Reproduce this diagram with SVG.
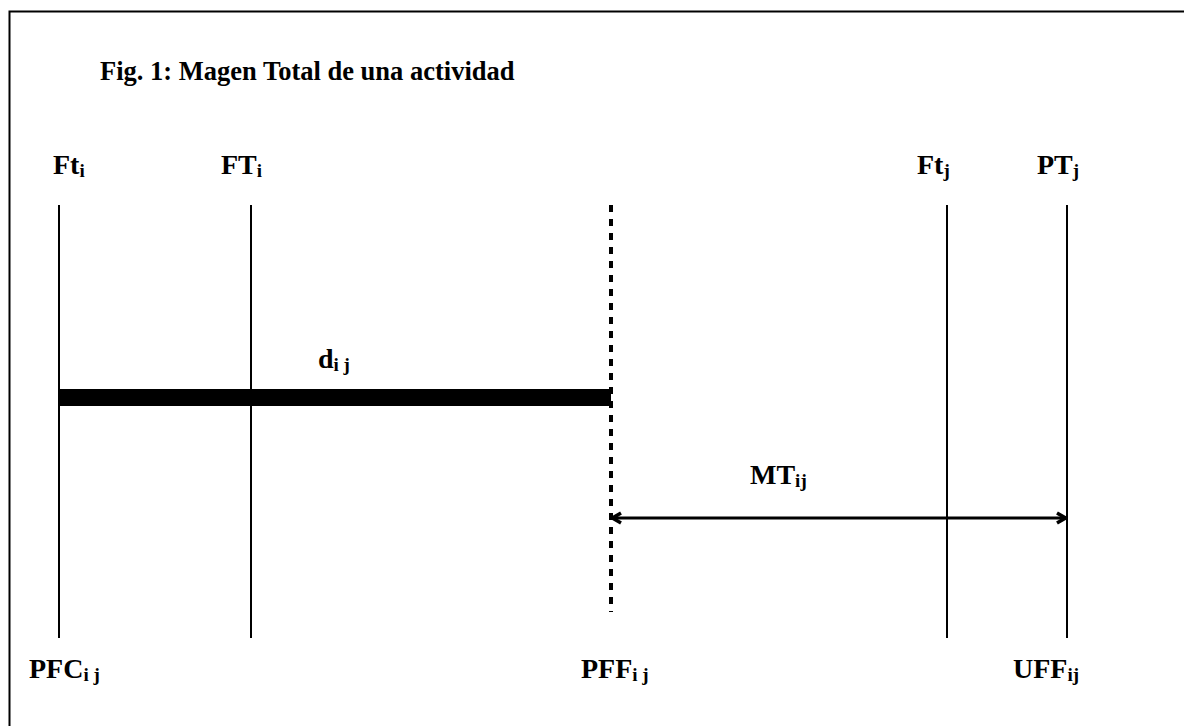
<svg xmlns="http://www.w3.org/2000/svg" width="1184" height="726" viewBox="0 0 1184 726">
<style>
text{font-family:"Liberation Serif","Times New Roman",serif;font-weight:bold;fill:#000}
.lbl{font-size:28px}
.sub{font-size:19px}
.title{font-size:26.5px}
.vl{stroke:#000;stroke-width:2;fill:none}
</style>
<defs>
<marker id="ah" viewBox="0 0 12 14" refX="11" refY="7" markerWidth="12" markerHeight="14" markerUnits="userSpaceOnUse" orient="auto-start-reverse">
<path d="M2,2 L10.5,7 L2,12" fill="none" stroke="#000" stroke-width="3.5"/>
</marker>
</defs>
<rect width="1184" height="726" fill="#fff"/>
<path d="M9.5,726 V11.5 H1184" fill="none" stroke="#000" stroke-width="2"/>
<g id="title"><text class="title" x="100" y="80">Fig. 1: Magen Total de una actividad</text></g>
<g id="connectors">
<line class="vl" x1="59" y1="205" x2="59" y2="638"/>
<line class="vl" x1="251" y1="205" x2="251" y2="638"/>
<line x1="611" y1="205" x2="611" y2="612" stroke="#000" stroke-width="4" stroke-dasharray="7,7"/>
<line class="vl" x1="947" y1="205" x2="947" y2="638"/>
<line class="vl" x1="1067" y1="205" x2="1067" y2="638"/>
<rect x="59" y="389" width="552" height="17" fill="#000"/>
<line x1="612" y1="518" x2="1066" y2="518" stroke="#000" stroke-width="3" marker-start="url(#ah)" marker-end="url(#ah)"/>
</g>
<g id="label-Ft-i"><text class="lbl" x="53" y="174">Ft<tspan class="sub" dy="3">i</tspan></text></g>
<g id="label-FT-i"><text class="lbl" x="221" y="174">FT<tspan class="sub" dy="3">i</tspan></text></g>
<g id="label-Ft-j"><text class="lbl" x="917" y="174">Ft<tspan class="sub" dy="3">j</tspan></text></g>
<g id="label-PT-j"><text class="lbl" x="1037" y="174">PT<tspan class="sub" dy="3">j</tspan></text></g>
<g id="label-d"><text class="lbl" x="318" y="368">d<tspan class="sub" dy="3">i j</tspan></text></g>
<g id="label-MT"><text class="lbl" x="750" y="484">MT<tspan class="sub" dy="3">ij</tspan></text></g>
<g id="label-PFC"><text class="lbl" x="29" y="678">PFC<tspan class="sub" dy="3">i j</tspan></text></g>
<g id="label-PFF"><text class="lbl" x="581" y="678">PFF<tspan class="sub" dy="3">i j</tspan></text></g>
<g id="label-UFF"><text class="lbl" x="1013" y="678">UFF<tspan class="sub" dy="3">ij</tspan></text></g>
</svg>
